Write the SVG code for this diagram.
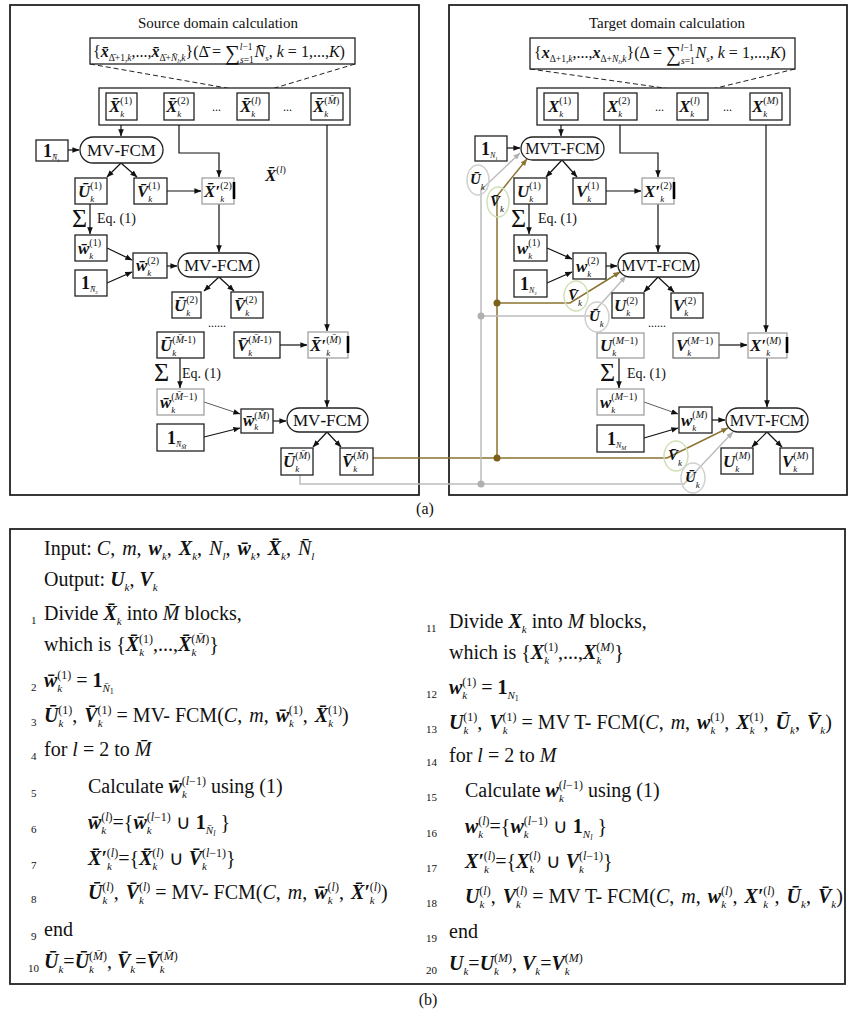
<svg xmlns="http://www.w3.org/2000/svg" width="850" height="1015" viewBox="0 0 850 1015">
<defs>
<style>
text{font-family:"Liberation Serif","Times New Roman",serif;fill:#111}
.bi{font-weight:bold;font-style:italic}
.it{font-style:italic}
.b{font-weight:bold}
.bx{fill:#fff;stroke:#222;stroke-width:1.3}
.gb{fill:#fff;stroke:#9a9a9a;stroke-width:1.2}
.db{fill:#fff;stroke:#666;stroke-width:1.2}
.frame{fill:none;stroke:#222;stroke-width:1.8}
.c{fill:none;stroke:#111;stroke-width:1.2}
.cs{fill:none;stroke:#333;stroke-width:0.8}
.cg{fill:none;stroke:#666;stroke-width:2}
.dash{fill:none;stroke:#222;stroke-width:1;stroke-dasharray:5 3}
.ol{fill:none;stroke:#8b7332;stroke-width:1.5}
.gr{fill:none;stroke:#bdbdbd;stroke-width:1.5}
.bar{stroke:#000;stroke-width:2.6}
.eg{fill:none;stroke:#cfe0b5;stroke-width:1.5}
.eu{fill:none;stroke:#cfcfcf;stroke-width:1.5}
.lab{font-size:17px}
.el{font-size:15px}
.sp{font-size:10px}
.sb{font-size:9px;font-style:italic}
.pl{font-size:17px}
.pt{font-size:16px}
.pc{font-size:20px}
.p12{font-size:12px}
.p11{font-size:11px;font-style:italic}
.p8{font-size:8px;font-style:italic}
.num{font-size:11px}
.ttl{font-size:15px}
.eq{font-size:14px}
.sig{font-size:26px}
.fm{font-size:16px}
.f9{font-size:9.5px}
</style>
<marker id="ak" viewBox="0 0 10 10" refX="9.5" refY="5" markerWidth="7" markerHeight="7" orient="auto" markerUnits="userSpaceOnUse"><path d="M0,1 L10,5 L0,9 z" fill="#111"/></marker>
<marker id="ao" viewBox="0 0 10 10" refX="9.5" refY="5" markerWidth="7" markerHeight="7" orient="auto" markerUnits="userSpaceOnUse"><path d="M0,1 L10,5 L0,9 z" fill="#8b7332"/></marker>
<marker id="ag" viewBox="0 0 10 10" refX="9.5" refY="5" markerWidth="7" markerHeight="7" orient="auto" markerUnits="userSpaceOnUse"><path d="M0,1 L10,5 L0,9 z" fill="#b0b0b0"/></marker>
</defs>
<rect width="850" height="1015" fill="#fff"/>

<!-- frames -->
<g id="frames">
<rect class="frame" x="10" y="5" width="409" height="490"/>
<rect class="frame" x="449" y="5" width="398" height="490"/>
<rect class="frame" x="10" y="529" width="835" height="455"/>
<text class="ttl" x="218" y="28" text-anchor="middle">Source domain calculation</text>
<text class="ttl" x="667" y="28" text-anchor="middle">Target domain calculation</text>
<text x="425" y="514" font-size="16" text-anchor="middle">(a)</text>
<text x="428" y="1005" font-size="16" text-anchor="middle">(b)</text>
</g>

<!-- connectors -->
<g id="connectors">
<path class="dash" d="M90,64L238,90M355,64L268,90"/>
<path class="dash" d="M530,69L678,90M795,69L708,90"/>
<path class="c" d="M121,125V136" marker-end="url(#ak)"/>
<path class="c" d="M68,150H79" marker-end="url(#ak)"/>
<path class="c" d="M179,125V153H219V177" marker-end="url(#ak)"/>
<path class="c" d="M121,163L107,177" marker-end="url(#ak)"/>
<path class="c" d="M121,163L137,177" marker-end="url(#ak)"/>
<path class="c" d="M167,191H201" marker-end="url(#ak)"/>
<path class="c" d="M90,204V234" marker-end="url(#ak)"/>
<path class="c" d="M107,248L132,260" marker-end="url(#ak)"/>
<path class="c" d="M107,283L132,272" marker-end="url(#ak)"/>
<path class="c" d="M167,266H177" marker-end="url(#ak)"/>
<path class="c" d="M219,204V252" marker-end="url(#ak)"/>
<path class="c" d="M219,277L204,291" marker-end="url(#ak)"/>
<path class="c" d="M219,277L234,291" marker-end="url(#ak)"/>
<path class="c" d="M327,125V331" marker-end="url(#ak)"/>
<path class="c" d="M280,345H307" marker-end="url(#ak)"/>
<path class="c" d="M180,358V388" marker-end="url(#ak)"/>
<path class="cs" d="M204,402L240,414" marker-end="url(#ak)"/>
<path class="c" d="M204,437L240,428" marker-end="url(#ak)"/>
<path class="c" d="M273,421H286" marker-end="url(#ak)"/>
<path class="c" d="M327,358V407" marker-end="url(#ak)"/>
<path class="c" d="M327,432L313,447" marker-end="url(#ak)"/>
<path class="c" d="M327,432L341,447" marker-end="url(#ak)"/>

<path class="c" d="M561,125V136" marker-end="url(#ak)"/>
<path class="c" d="M507,148H520" marker-end="url(#ak)"/>
<path class="c" d="M620,125V153H658V177" marker-end="url(#ak)"/>
<path class="c" d="M562,160L546,177" marker-end="url(#ak)"/>
<path class="c" d="M562,160L577,177" marker-end="url(#ak)"/>
<path class="c" d="M606,191H641" marker-end="url(#ak)"/>
<path class="c" d="M658,204V252" marker-end="url(#ak)"/>
<path class="c" d="M529,204V234" marker-end="url(#ak)"/>
<path class="c" d="M547,248L572,259" marker-end="url(#ak)"/>
<path class="c" d="M547,283L572,272" marker-end="url(#ak)"/>
<path class="c" d="M606,266H617" marker-end="url(#ak)"/>
<path class="c" d="M658,277L644,292" marker-end="url(#ak)"/>
<path class="c" d="M658,277L674,292" marker-end="url(#ak)"/>
<path class="c" d="M766,125V332" marker-end="url(#ak)"/>
<path class="c" d="M719,345H747" marker-end="url(#ak)"/>
<path class="c" d="M619,358V388" marker-end="url(#ak)"/>
<path class="cs" d="M644,402L678,414" marker-end="url(#ak)"/>
<path class="c" d="M644,438L678,428" marker-end="url(#ak)"/>
<path class="c" d="M712,420H725" marker-end="url(#ak)"/>
<path class="cg" d="M767,358V407" marker-end="url(#ak)"/>
<path class="c" d="M767,432L752,447" marker-end="url(#ak)"/>
<path class="c" d="M767,432L782,447" marker-end="url(#ak)"/>

<path class="ol" d="M373,458H667L728,428" marker-end="url(#ao)"/>
<path class="ol" d="M497,458V303H570L620,272" marker-end="url(#ao)"/>
<path class="ol" d="M497,303V196L527,159" marker-end="url(#ao)"/>
<path class="gr" d="M300,475V484H684L733,432" marker-end="url(#ag)"/>
<path class="gr" d="M481,484V316H590L626,276" marker-end="url(#ag)"/>
<path class="gr" d="M481,316V190L520,153" marker-end="url(#ag)"/>
<circle cx="497" cy="458" r="3.5" fill="#7a6018"/>
<circle cx="497" cy="303" r="3.5" fill="#7a6018"/>
<circle cx="481" cy="484" r="3.5" fill="#b0b0b0"/>
<circle cx="481" cy="316" r="3.5" fill="#b0b0b0"/>
</g>

<!-- left panel nodes -->
<g id="src-formula"><rect class="bx" x="90" y="38" width="265" height="26"/>
<text class="fm" x="93" y="57">{<tspan class="bi">x&#x304;</tspan><tspan class="f9" y="61">Δ&#x304;+1,<tspan class="it">k</tspan></tspan><tspan y="57">,...,</tspan><tspan class="bi">x&#x304;</tspan><tspan class="f9" y="61">Δ&#x304;+<tspan class="it">N&#x304;</tspan><tspan font-size="6" class="it" y="63">l</tspan><tspan y="61">,</tspan><tspan class="it">k</tspan></tspan><tspan y="57">}(Δ&#x304; = </tspan><tspan font-size="21" y="60">∑</tspan><tspan class="f9" y="63"><tspan class="it">s</tspan>=1</tspan><tspan class="f9" y="50" dx="-14"><tspan class="it">l</tspan>&#x2212;1</tspan><tspan class="it" y="57" dx="2">N&#x304;</tspan><tspan class="sb" y="61">s</tspan><tspan y="57">, <tspan class="it">k</tspan> = 1,...,<tspan class="it">K</tspan>)</tspan></text></g>
<g id="src-blocks"><rect class="bx" x="99" y="88" width="251" height="37"/>
<text x="212" y="111" font-size="12">...</text><text x="283" y="111" font-size="12">...</text></g>
<g id="xb1"><rect class="bx" x="106" y="93" width="31" height="27"/><text class="lab" x="109" y="112"><tspan class="bi">X&#x304;</tspan><tspan class="sb" y="117">k</tspan><tspan class="sp" y="104" dx="-4">(1)</tspan></text></g>
<g id="xb2"><rect class="bx" x="164" y="93" width="30" height="27"/><text class="lab" x="166" y="112"><tspan class="bi">X&#x304;</tspan><tspan class="sb" y="117">k</tspan><tspan class="sp" y="104" dx="-4">(2)</tspan></text></g>
<g id="xbl"><rect class="bx" x="237" y="93" width="32" height="27"/><text class="lab" x="240" y="112"><tspan class="bi">X&#x304;</tspan><tspan class="sb" y="117">k</tspan><tspan class="sp" y="104" dx="-4">(<tspan class="it">l</tspan>)</tspan></text></g>
<g id="xbm"><rect class="bx" x="311" y="93" width="32" height="27"/><text class="lab" x="313" y="112"><tspan class="bi">X&#x304;</tspan><tspan class="sb" y="117">k</tspan><tspan class="sp" y="104" dx="-4">(<tspan class="it">M&#x304;</tspan>)</tspan></text></g>
<g id="one-n1b"><rect class="bx" x="36" y="140" width="32" height="21"/><text x="43" y="157" font-size="18" class="b">1<tspan class="p8" y="160" font-weight="normal">N&#x304;</tspan><tspan font-size="5" y="162" font-weight="normal">1</tspan></text></g>
<g id="mv1"><rect class="bx" x="80" y="137" width="83" height="26" rx="13"/><text class="pl" x="121.5" y="156" text-anchor="middle">MV<tspan class="b">-</tspan>FCM</text></g>
<g id="ub1"><rect class="bx" x="75" y="178" width="32" height="26"/><text class="lab" x="78" y="197"><tspan class="bi">U&#x304;</tspan><tspan class="sb" y="202">k</tspan><tspan class="sp" y="189" dx="-4">(1)</tspan></text></g>
<g id="vb1"><rect class="bx" x="134" y="178" width="33" height="26"/><text class="lab" x="137" y="197"><tspan class="bi">V&#x304;</tspan><tspan class="sb" y="202">k</tspan><tspan class="sp" y="189" dx="-4">(1)</tspan></text></g>
<g id="xpb2"><rect class="gb" x="202" y="178" width="32" height="26"/><line class="bar" x1="234" y1="182" x2="234" y2="199"/><text class="lab" x="204" y="197"><tspan class="bi">X&#x304;′</tspan><tspan class="sb" y="202">k</tspan><tspan class="sp" y="189" dx="-4">(2)</tspan></text></g>
<g id="xbl-float"><text class="lab" x="265" y="181" fill="#333"><tspan class="bi">X&#x304;</tspan><tspan class="sp" y="173">(<tspan class="it">l</tspan>)</tspan></text></g>
<g id="eq1b"><text class="sig" x="72" y="227">Σ</text><text class="eq" x="97" y="223">Eq. (1)</text></g>
<g id="wb1"><rect class="bx" x="75" y="235" width="32" height="26"/><text class="lab" x="78" y="254"><tspan class="bi">w&#x304;</tspan><tspan class="sb" y="259">k</tspan><tspan class="sp" y="246" dx="-4">(1)</tspan></text></g>
<g id="one-n2b"><rect class="bx" x="75" y="270" width="32" height="26"/><text x="81" y="289" font-size="18" class="b">1<tspan class="p8" y="292" font-weight="normal">N&#x304;</tspan><tspan font-size="5" y="294" font-weight="normal">2</tspan></text></g>
<g id="wb2"><rect class="bx" x="133" y="253" width="34" height="25"/><text class="lab" x="136" y="271"><tspan class="bi">w&#x304;</tspan><tspan class="sb" y="276">k</tspan><tspan class="sp" y="264" dx="-4">(2)</tspan></text></g>
<g id="mv2"><rect class="bx" x="178" y="253" width="81" height="24" rx="12"/><text class="pl" x="218.5" y="271" text-anchor="middle">MV<tspan class="b">-</tspan>FCM</text></g>
<g id="ub2"><rect class="bx" x="172" y="292" width="29" height="26"/><text class="lab" x="174" y="311"><tspan class="bi">U&#x304;</tspan><tspan class="sb" y="316">k</tspan><tspan class="sp" y="303" dx="-4">(2)</tspan></text></g>
<g id="vb2"><rect class="bx" x="231" y="292" width="32" height="26"/><text class="lab" x="234" y="311"><tspan class="bi">V&#x304;</tspan><tspan class="sb" y="316">k</tspan><tspan class="sp" y="303" dx="-4">(2)</tspan></text></g>
<text x="208" y="327" font-size="12">......</text>
<g id="ubm1"><rect class="bx" x="157" y="332" width="47" height="26"/><text class="lab" x="160" y="351"><tspan class="bi">U&#x304;</tspan><tspan class="sb" y="356">k</tspan><tspan class="sp" y="343" dx="-4">(<tspan class="it">M&#x304;</tspan>-1)</tspan></text></g>
<g id="vbm1"><rect class="bx" x="234" y="332" width="46" height="26"/><text class="lab" x="237" y="351"><tspan class="bi">V&#x304;</tspan><tspan class="sb" y="356">k</tspan><tspan class="sp" y="343" dx="-4">(<tspan class="it">M&#x304;</tspan>-1)</tspan></text></g>
<g id="xpbm"><rect class="gb" x="308" y="332" width="40" height="26"/><line class="bar" x1="348" y1="336" x2="348" y2="353"/><text class="lab" x="310" y="351"><tspan class="bi">X&#x304;′</tspan><tspan class="sb" y="356">k</tspan><tspan class="sp" y="343" dx="-4">(<tspan class="it">M&#x304;</tspan>)</tspan></text></g>
<g id="eq1bm"><text class="sig" x="154" y="381">Σ</text><text class="eq" x="182" y="378">Eq. (1)</text></g>
<g id="wbm1"><rect class="gb" x="157" y="389" width="47" height="26"/><text class="lab" x="160" y="408"><tspan class="bi">w&#x304;</tspan><tspan class="sb" y="413">k</tspan><tspan class="sp" y="400" dx="-4">(<tspan class="it">M&#x304;</tspan>&#x2212;1)</tspan></text></g>
<g id="one-nmb"><rect class="bx" x="157" y="424" width="47" height="27"/><text x="167" y="444" font-size="18" class="b">1<tspan class="p8" y="447" font-weight="normal">N&#x304;</tspan><tspan font-size="6" class="it" y="449" font-weight="normal">M&#x304;</tspan></text></g>
<g id="wbm"><rect class="bx" x="241" y="409" width="32" height="24"/><text class="lab" x="243" y="426"><tspan class="bi">w&#x304;</tspan><tspan class="sb" y="430">k</tspan><tspan class="sp" y="419" dx="-4">(<tspan class="it">M&#x304;</tspan>)</tspan></text></g>
<g id="mv3"><rect class="bx" x="287" y="408" width="81" height="24" rx="12"/><text class="pl" x="327.5" y="426" text-anchor="middle">MV<tspan class="b">-</tspan>FCM</text></g>
<g id="ubm"><rect class="bx" x="281" y="448" width="32" height="27"/><text class="lab" x="283" y="467"><tspan class="bi">U&#x304;</tspan><tspan class="sb" y="472">k</tspan><tspan class="sp" y="459" dx="-4">(<tspan class="it">M&#x304;</tspan>)</tspan></text></g>
<g id="vbm"><rect class="bx" x="340" y="448" width="33" height="27"/><text class="lab" x="342" y="467"><tspan class="bi">V&#x304;</tspan><tspan class="sb" y="472">k</tspan><tspan class="sp" y="459" dx="-4">(<tspan class="it">M&#x304;</tspan>)</tspan></text></g>

<!-- right panel nodes -->
<g id="tgt-formula"><rect class="bx" x="530" y="38" width="265" height="31"/>
<text class="fm" x="534" y="58">{<tspan class="bi">x</tspan><tspan class="f9" y="62">Δ+1,<tspan class="it">k</tspan></tspan><tspan y="58">,...,</tspan><tspan class="bi">x</tspan><tspan class="f9" y="62">Δ+<tspan class="it">N</tspan><tspan font-size="6" class="it" y="64">l</tspan><tspan y="62">,</tspan><tspan class="it">k</tspan></tspan><tspan y="58">}(Δ = </tspan><tspan font-size="21" y="61">∑</tspan><tspan class="f9" y="64"><tspan class="it">s</tspan>=1</tspan><tspan class="f9" y="51" dx="-14"><tspan class="it">l</tspan>&#x2212;1</tspan><tspan class="it" y="58" dx="2">N</tspan><tspan class="sb" y="62">s</tspan><tspan y="58">, <tspan class="it">k</tspan> = 1,...,<tspan class="it">K</tspan>)</tspan></text></g>
<g id="tgt-blocks"><rect class="bx" x="537" y="88" width="253" height="37"/>
<text x="655" y="111" font-size="12">...</text><text x="723" y="111" font-size="12">...</text></g>
<g id="x1"><rect class="bx" x="544" y="93" width="34" height="27"/><text class="lab" x="548" y="112"><tspan class="bi">X</tspan><tspan class="sb" y="117">k</tspan><tspan class="sp" y="104" dx="-4">(1)</tspan></text></g>
<g id="x2"><rect class="bx" x="604" y="93" width="33" height="27"/><text class="lab" x="607" y="112"><tspan class="bi">X</tspan><tspan class="sb" y="117">k</tspan><tspan class="sp" y="104" dx="-4">(2)</tspan></text></g>
<g id="xl"><rect class="bx" x="677" y="93" width="31" height="27"/><text class="lab" x="679" y="112"><tspan class="bi">X</tspan><tspan class="sb" y="117">k</tspan><tspan class="sp" y="104" dx="-4">(<tspan class="it">l</tspan>)</tspan></text></g>
<g id="xm"><rect class="bx" x="750" y="93" width="32" height="27"/><text class="lab" x="752" y="112"><tspan class="bi">X</tspan><tspan class="sb" y="117">k</tspan><tspan class="sp" y="104" dx="-4">(<tspan class="it">M</tspan>)</tspan></text></g>
<g id="one-n1"><rect class="bx" x="475" y="136" width="32" height="25"/><text x="481" y="155" font-size="18" class="b">1<tspan class="p8" y="158" font-weight="normal">N</tspan><tspan font-size="5" y="160" font-weight="normal">1</tspan></text></g>
<g id="mvt1"><rect class="bx" x="521" y="137" width="83" height="23" rx="11.5"/><text class="pt" x="562.5" y="154" text-anchor="middle">MVT<tspan class="b">-</tspan>FCM</text></g>
<g id="u1"><rect class="bx" x="514" y="178" width="33" height="26"/><text class="lab" x="517" y="197"><tspan class="bi">U</tspan><tspan class="sb" y="202">k</tspan><tspan class="sp" y="189" dx="-4">(1)</tspan></text></g>
<g id="v1"><rect class="bx" x="573" y="178" width="33" height="26"/><text class="lab" x="576" y="197"><tspan class="bi">V</tspan><tspan class="sb" y="202">k</tspan><tspan class="sp" y="189" dx="-4">(1)</tspan></text></g>
<g id="xp2"><rect class="gb" x="642" y="178" width="32" height="26"/><line class="bar" x1="674" y1="182" x2="674" y2="199"/><text class="lab" x="644" y="197"><tspan class="bi">X′</tspan><tspan class="sb" y="202">k</tspan><tspan class="sp" y="189" dx="-4">(2)</tspan></text></g>
<g id="eq1"><text class="sig" x="511" y="227">Σ</text><text class="eq" x="538" y="223">Eq. (1)</text></g>
<g id="w1"><rect class="bx" x="514" y="235" width="33" height="26"/><text class="lab" x="517" y="254"><tspan class="bi">w</tspan><tspan class="sb" y="259">k</tspan><tspan class="sp" y="246" dx="-4">(1)</tspan></text></g>
<g id="one-n2"><rect class="bx" x="514" y="270" width="33" height="27"/><text x="520" y="290" font-size="18" class="b">1<tspan class="p8" y="293" font-weight="normal">N</tspan><tspan font-size="5" y="295" font-weight="normal">2</tspan></text></g>
<g id="w2"><rect class="bx" x="573" y="253" width="33" height="26"/><text class="lab" x="576" y="272"><tspan class="bi">w</tspan><tspan class="sb" y="277">k</tspan><tspan class="sp" y="264" dx="-4">(2)</tspan></text></g>
<g id="mvt2"><rect class="bx" x="618" y="253" width="81" height="24" rx="12"/><text class="pt" x="658.5" y="271" text-anchor="middle">MVT<tspan class="b">-</tspan>FCM</text></g>
<g id="u2"><rect class="bx" x="612" y="293" width="32" height="25"/><text class="lab" x="614" y="311"><tspan class="bi">U</tspan><tspan class="sb" y="316">k</tspan><tspan class="sp" y="304" dx="-4">(2)</tspan></text></g>
<g id="v2"><rect class="bx" x="671" y="293" width="32" height="25"/><text class="lab" x="673" y="311"><tspan class="bi">V</tspan><tspan class="sb" y="316">k</tspan><tspan class="sp" y="304" dx="-4">(2)</tspan></text></g>
<text x="648" y="327" font-size="12">......</text>
<g id="um1"><rect class="gb" x="597" y="333" width="47" height="25"/><text class="lab" x="600" y="351"><tspan class="bi">U</tspan><tspan class="sb" y="356">k</tspan><tspan class="sp" y="344" dx="-4">(<tspan class="it">M</tspan>&#x2212;1)</tspan></text></g>
<g id="vm1"><rect class="db" x="673" y="333" width="46" height="25"/><text class="lab" x="676" y="351"><tspan class="bi">V</tspan><tspan class="sb" y="356">k</tspan><tspan class="sp" y="344" dx="-4">(<tspan class="it">M</tspan>&#x2212;1)</tspan></text></g>
<g id="xpm"><rect class="gb" x="748" y="333" width="39" height="25"/><line class="bar" x1="787" y1="337" x2="787" y2="353"/><text class="lab" x="750" y="351"><tspan class="bi">X′</tspan><tspan class="sb" y="356">k</tspan><tspan class="sp" y="344" dx="-4">(<tspan class="it">M</tspan>)</tspan></text></g>
<g id="eq1m"><text class="sig" x="600" y="381">Σ</text><text class="eq" x="627" y="378">Eq. (1)</text></g>
<g id="wm1"><rect class="gb" x="597" y="389" width="47" height="26"/><text class="lab" x="600" y="408"><tspan class="bi">w</tspan><tspan class="sb" y="413">k</tspan><tspan class="sp" y="400" dx="-4">(<tspan class="it">M</tspan>&#x2212;1)</tspan></text></g>
<g id="one-nm"><rect class="bx" x="597" y="425" width="47" height="27"/><text x="607" y="445" font-size="18" class="b">1<tspan class="p8" y="448" font-weight="normal">N</tspan><tspan font-size="6" class="it" y="450" font-weight="normal">M</tspan></text></g>
<g id="wm"><rect class="bx" x="679" y="407" width="33" height="26"/><text class="lab" x="681" y="426"><tspan class="bi">w</tspan><tspan class="sb" y="431">k</tspan><tspan class="sp" y="418" dx="-4">(<tspan class="it">M</tspan>)</tspan></text></g>
<g id="mvt3"><rect class="bx" x="726" y="408" width="82" height="24" rx="12"/><text class="pt" x="767" y="426" text-anchor="middle">MVT<tspan class="b">-</tspan>FCM</text></g>
<g id="um"><rect class="bx" x="721" y="448" width="32" height="26"/><text class="lab" x="723" y="467"><tspan class="bi">U</tspan><tspan class="sb" y="472">k</tspan><tspan class="sp" y="459" dx="-4">(<tspan class="it">M</tspan>)</tspan></text></g>
<g id="vm"><rect class="bx" x="780" y="448" width="33" height="26"/><text class="lab" x="782" y="467"><tspan class="bi">V</tspan><tspan class="sb" y="472">k</tspan><tspan class="sp" y="459" dx="-4">(<tspan class="it">M</tspan>)</tspan></text></g>

<!-- transferred source results (ellipses) -->
<g id="e-ua"><ellipse class="eu" cx="478" cy="180" rx="11" ry="15"/><text class="el" x="470" y="184"><tspan class="bi">U&#x304;</tspan><tspan class="sb" y="190">k</tspan></text></g>
<g id="e-va"><ellipse class="eg" cx="498" cy="202" rx="11" ry="15"/><text class="el" x="490" y="206"><tspan class="bi">V&#x304;</tspan><tspan class="sb" y="212">k</tspan></text></g>
<g id="e-vb"><ellipse class="eg" cx="576" cy="296" rx="12" ry="15"/><text class="el" x="568" y="300"><tspan class="bi">V&#x304;</tspan><tspan class="sb" y="306">k</tspan></text></g>
<g id="e-ub"><ellipse class="eu" cx="597" cy="317" rx="12" ry="15"/><text class="el" x="589" y="321"><tspan class="bi">U&#x304;</tspan><tspan class="sb" y="327">k</tspan></text></g>
<g id="e-vc"><ellipse class="eg" cx="676" cy="456" rx="12" ry="15"/><text class="el" x="668" y="460"><tspan class="bi">V&#x304;</tspan><tspan class="sb" y="466">k</tspan></text></g>
<g id="e-uc"><ellipse class="eu" cx="693" cy="478" rx="12" ry="15"/><text class="el" x="685" y="482"><tspan class="bi">U&#x304;</tspan><tspan class="sb" y="488">k</tspan></text></g>

<!-- pseudocode -->
<g id="algo-left">
<text class="pc" x="44" y="555">Input: <tspan class="it">C</tspan>, <tspan class="it" dx="2">m</tspan>, <tspan class="bi" dx="2">w</tspan><tspan class="p11" y="560">k</tspan><tspan y="555">, </tspan><tspan class="bi" dx="2">X</tspan><tspan class="p11" y="560">k</tspan><tspan y="555">, </tspan><tspan class="it" dx="2">N</tspan><tspan class="p11" y="560">l</tspan><tspan y="555">, </tspan><tspan class="bi" dx="2">w&#x304;</tspan><tspan class="p11" y="560">k</tspan><tspan y="555">, </tspan><tspan class="bi" dx="2">X&#x304;</tspan><tspan class="p11" y="560">k</tspan><tspan y="555">, </tspan><tspan class="it" dx="2">N&#x304;</tspan><tspan class="p11" y="560">l</tspan></text>
<text class="pc" x="44" y="586">Output: <tspan class="bi">U</tspan><tspan class="p11" y="591">k</tspan><tspan y="586">, </tspan><tspan class="bi">V</tspan><tspan class="p11" y="591">k</tspan></text>
<text class="num" x="31" y="624">1</text>
<text class="pc" x="44" y="620">Divide <tspan class="bi">X&#x304;</tspan><tspan class="p11" y="625">k</tspan><tspan y="620"> into </tspan><tspan class="it">M&#x304;</tspan> blocks,</text>
<text class="pc" x="44" y="651">which is {<tspan class="bi">X&#x304;</tspan><tspan class="p11" y="656">k</tspan><tspan class="p12" y="643" dx="-5">(1)</tspan><tspan y="651">,...,</tspan><tspan class="bi">X&#x304;</tspan><tspan class="p11" y="656">k</tspan><tspan class="p12" y="643" dx="-5">(<tspan class="it">M&#x304;</tspan>)</tspan><tspan y="651">}</tspan></text>
<text class="num" x="31" y="691">2</text>
<text class="pc" x="44" y="687"><tspan class="bi">w&#x304;</tspan><tspan class="p11" y="692">k</tspan><tspan class="p12" y="679" dx="-5">(1)</tspan><tspan y="687"> = </tspan><tspan class="b">1</tspan><tspan class="p11" y="692">N&#x304;</tspan><tspan font-size="8" y="694">1</tspan></text>
<text class="num" x="31" y="726">3</text>
<text class="pc" x="44" y="722"><tspan class="bi">U&#x304;</tspan><tspan class="p11" y="727">k</tspan><tspan class="p12" y="714" dx="-5">(1)</tspan><tspan y="722">, </tspan><tspan class="bi" dx="2">V&#x304;</tspan><tspan class="p11" y="727">k</tspan><tspan class="p12" y="714" dx="-5">(1)</tspan><tspan y="722"> = MV- FCM(</tspan><tspan class="it">C</tspan>, <tspan class="it" dx="2">m</tspan>, <tspan class="bi" dx="2">w&#x304;</tspan><tspan class="p11" y="727">k</tspan><tspan class="p12" y="714" dx="-5">(1)</tspan><tspan y="722">, </tspan><tspan class="bi" dx="2">X&#x304;</tspan><tspan class="p11" y="727">k</tspan><tspan class="p12" y="714" dx="-5">(1)</tspan><tspan y="722">)</tspan></text>
<text class="num" x="31" y="760">4</text>
<text class="pc" x="44" y="756">for <tspan class="it">l</tspan> = 2 to <tspan class="it">M&#x304;</tspan></text>
<text class="num" x="31" y="797">5</text>
<text class="pc" x="88" y="793">Calculate <tspan class="bi">w&#x304;</tspan><tspan class="p11" y="798">k</tspan><tspan class="p12" y="785" dx="-5">(<tspan class="it">l</tspan>&#x2212;1)</tspan><tspan y="793"> using (1)</tspan></text>
<text class="num" x="31" y="833">6</text>
<text class="pc" x="88" y="829"><tspan class="bi">w&#x304;</tspan><tspan class="p11" y="834">k</tspan><tspan class="p12" y="821" dx="-5">(<tspan class="it">l</tspan>)</tspan><tspan y="829">={</tspan><tspan class="bi">w&#x304;</tspan><tspan class="p11" y="834">k</tspan><tspan class="p12" y="821" dx="-5">(<tspan class="it">l</tspan>&#x2212;1)</tspan><tspan y="829"> ∪ </tspan><tspan class="b">1</tspan><tspan class="p11" y="834">N&#x304;</tspan><tspan font-size="8" class="it" y="836">l</tspan><tspan y="829"> }</tspan></text>
<text class="num" x="31" y="869">7</text>
<text class="pc" x="88" y="865"><tspan class="bi">X&#x304;′</tspan><tspan class="p11" y="870">k</tspan><tspan class="p12" y="857" dx="-5">(<tspan class="it">l</tspan>)</tspan><tspan y="865">={</tspan><tspan class="bi">X&#x304;</tspan><tspan class="p11" y="870">k</tspan><tspan class="p12" y="857" dx="-5">(<tspan class="it">l</tspan>)</tspan><tspan y="865"> ∪ </tspan><tspan class="bi">V&#x304;</tspan><tspan class="p11" y="870">k</tspan><tspan class="p12" y="857" dx="-5">(<tspan class="it">l</tspan>&#x2212;1)</tspan><tspan y="865">}</tspan></text>
<text class="num" x="31" y="903">8</text>
<text class="pc" x="88" y="899"><tspan class="bi">U&#x304;</tspan><tspan class="p11" y="904">k</tspan><tspan class="p12" y="891" dx="-5">(<tspan class="it">l</tspan>)</tspan><tspan y="899">, </tspan><tspan class="bi" dx="2">V&#x304;</tspan><tspan class="p11" y="904">k</tspan><tspan class="p12" y="891" dx="-5">(<tspan class="it">l</tspan>)</tspan><tspan y="899"> = MV- FCM(</tspan><tspan class="it">C</tspan>, <tspan class="it" dx="2">m</tspan>, <tspan class="bi" dx="2">w&#x304;</tspan><tspan class="p11" y="904">k</tspan><tspan class="p12" y="891" dx="-5">(<tspan class="it">l</tspan>)</tspan><tspan y="899">, </tspan><tspan class="bi" dx="2">X&#x304;′</tspan><tspan class="p11" y="904">k</tspan><tspan class="p12" y="891" dx="-5">(<tspan class="it">l</tspan>)</tspan><tspan y="899">)</tspan></text>
<text class="num" x="31" y="940">9</text>
<text class="pc" x="44" y="936">end</text>
<text class="num" x="28" y="972">10</text>
<text class="pc" x="44" y="968"><tspan class="bi">U&#x304;</tspan><tspan class="p11" y="973">k</tspan><tspan y="968">=</tspan><tspan class="bi">U&#x304;</tspan><tspan class="p11" y="973">k</tspan><tspan class="p12" y="960" dx="-5">(<tspan class="it">M&#x304;</tspan>)</tspan><tspan y="968">, </tspan><tspan class="bi">V&#x304;</tspan><tspan class="p11" y="973">k</tspan><tspan y="968">=</tspan><tspan class="bi">V&#x304;</tspan><tspan class="p11" y="973">k</tspan><tspan class="p12" y="960" dx="-5">(<tspan class="it">M&#x304;</tspan>)</tspan></text>
</g>

<g id="algo-right">
<text class="num" x="426" y="632">11</text>
<text class="pc" x="449" y="628">Divide <tspan class="bi">X</tspan><tspan class="p11" y="633">k</tspan><tspan y="628"> into </tspan><tspan class="it">M</tspan> blocks,</text>
<text class="pc" x="449" y="659">which is {<tspan class="bi">X</tspan><tspan class="p11" y="664">k</tspan><tspan class="p12" y="651" dx="-5">(1)</tspan><tspan y="659">,...,</tspan><tspan class="bi">X</tspan><tspan class="p11" y="664">k</tspan><tspan class="p12" y="651" dx="-5">(<tspan class="it">M</tspan>)</tspan><tspan y="659">}</tspan></text>
<text class="num" x="426" y="698">12</text>
<text class="pc" x="449" y="694"><tspan class="bi">w</tspan><tspan class="p11" y="699">k</tspan><tspan class="p12" y="686" dx="-5">(1)</tspan><tspan y="694"> = </tspan><tspan class="b">1</tspan><tspan class="p11" y="699">N</tspan><tspan font-size="8" y="701">1</tspan></text>
<text class="num" x="426" y="733">13</text>
<text class="pc" x="449" y="729"><tspan class="bi">U</tspan><tspan class="p11" y="734">k</tspan><tspan class="p12" y="721" dx="-5">(1)</tspan><tspan y="729">, </tspan><tspan class="bi" dx="2">V</tspan><tspan class="p11" y="734">k</tspan><tspan class="p12" y="721" dx="-5">(1)</tspan><tspan y="729"> = MV T- FCM(</tspan><tspan class="it">C</tspan>, <tspan class="it" dx="2">m</tspan>, <tspan class="bi" dx="2">w</tspan><tspan class="p11" y="734">k</tspan><tspan class="p12" y="721" dx="-5">(1)</tspan><tspan y="729">, </tspan><tspan class="bi" dx="2">X</tspan><tspan class="p11" y="734">k</tspan><tspan class="p12" y="721" dx="-5">(1)</tspan><tspan y="729">, </tspan><tspan class="bi" dx="2">U&#x304;</tspan><tspan class="p11" y="734">k</tspan><tspan y="729">, </tspan><tspan class="bi" dx="2">V&#x304;</tspan><tspan class="p11" y="734">k</tspan><tspan y="729">)</tspan></text>
<text class="num" x="426" y="766">14</text>
<text class="pc" x="449" y="762">for <tspan class="it">l</tspan> = 2 to <tspan class="it">M</tspan></text>
<text class="num" x="426" y="801">15</text>
<text class="pc" x="465" y="797">Calculate <tspan class="bi">w</tspan><tspan class="p11" y="802">k</tspan><tspan class="p12" y="789" dx="-5">(<tspan class="it">l</tspan>&#x2212;1)</tspan><tspan y="797"> using (1)</tspan></text>
<text class="num" x="426" y="837">16</text>
<text class="pc" x="465" y="833"><tspan class="bi">w</tspan><tspan class="p11" y="838">k</tspan><tspan class="p12" y="825" dx="-5">(<tspan class="it">l</tspan>)</tspan><tspan y="833">={</tspan><tspan class="bi">w</tspan><tspan class="p11" y="838">k</tspan><tspan class="p12" y="825" dx="-5">(<tspan class="it">l</tspan>&#x2212;1)</tspan><tspan y="833"> ∪ </tspan><tspan class="b">1</tspan><tspan class="p11" y="838">N</tspan><tspan font-size="8" class="it" y="840">l</tspan><tspan y="833"> }</tspan></text>
<text class="num" x="426" y="872">17</text>
<text class="pc" x="465" y="868"><tspan class="bi">X′</tspan><tspan class="p11" y="873">k</tspan><tspan class="p12" y="860" dx="-5">(<tspan class="it">l</tspan>)</tspan><tspan y="868">={</tspan><tspan class="bi">X</tspan><tspan class="p11" y="873">k</tspan><tspan class="p12" y="860" dx="-5">(<tspan class="it">l</tspan>)</tspan><tspan y="868"> ∪ </tspan><tspan class="bi">V</tspan><tspan class="p11" y="873">k</tspan><tspan class="p12" y="860" dx="-5">(<tspan class="it">l</tspan>&#x2212;1)</tspan><tspan y="868">}</tspan></text>
<text class="num" x="426" y="907">18</text>
<text class="pc" x="465" y="903"><tspan class="bi">U</tspan><tspan class="p11" y="908">k</tspan><tspan class="p12" y="895" dx="-5">(<tspan class="it">l</tspan>)</tspan><tspan y="903">, </tspan><tspan class="bi" dx="2">V</tspan><tspan class="p11" y="908">k</tspan><tspan class="p12" y="895" dx="-5">(<tspan class="it">l</tspan>)</tspan><tspan y="903"> = MV T- FCM(</tspan><tspan class="it">C</tspan>, <tspan class="it" dx="2">m</tspan>, <tspan class="bi" dx="2">w</tspan><tspan class="p11" y="908">k</tspan><tspan class="p12" y="895" dx="-5">(<tspan class="it">l</tspan>)</tspan><tspan y="903">, </tspan><tspan class="bi" dx="2">X′</tspan><tspan class="p11" y="908">k</tspan><tspan class="p12" y="895" dx="-5">(<tspan class="it">l</tspan>)</tspan><tspan y="903">, </tspan><tspan class="bi" dx="2">U&#x304;</tspan><tspan class="p11" y="908">k</tspan><tspan y="903">, </tspan><tspan class="bi" dx="2">V&#x304;</tspan><tspan class="p11" y="908">k</tspan><tspan y="903">)</tspan></text>
<text class="num" x="426" y="942">19</text>
<text class="pc" x="449" y="938">end</text>
<text class="num" x="426" y="974">20</text>
<text class="pc" x="449" y="970"><tspan class="bi">U</tspan><tspan class="p11" y="975">k</tspan><tspan y="970">=</tspan><tspan class="bi">U</tspan><tspan class="p11" y="975">k</tspan><tspan class="p12" y="962" dx="-5">(<tspan class="it">M</tspan>)</tspan><tspan y="970">, </tspan><tspan class="bi">V</tspan><tspan class="p11" y="975">k</tspan><tspan y="970">=</tspan><tspan class="bi">V</tspan><tspan class="p11" y="975">k</tspan><tspan class="p12" y="962" dx="-5">(<tspan class="it">M</tspan>)</tspan></text>
</g>
</svg>
